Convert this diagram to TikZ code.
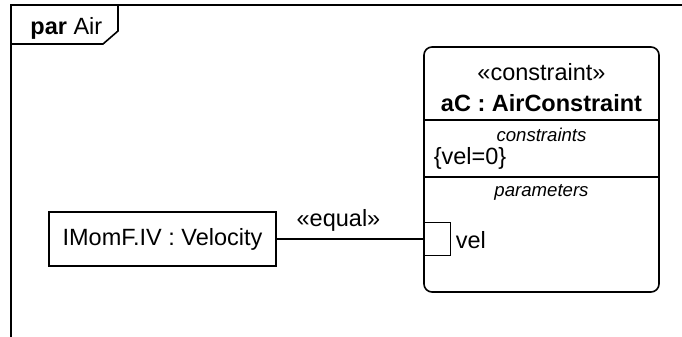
\documentclass[tikz,border=0pt]{standalone}
\usepackage{fontspec}
\setmainfont{Liberation Sans}
\usetikzlibrary{arrows.meta}
\newcommand{\stereo}[1]{«#1»}
\newcommand{\compart}[1]{{\fontsize{9.3}{11}\selectfont\itshape #1}}

\begin{document}
\begin{tikzpicture}[x=0.5pt,y=-0.5pt,line width=0.8pt,
    font=\fontsize{11.75}{14}\selectfont]
    \useasboundingbox (0,0) rectangle (682,337);

    % diagram frame
    \draw (682,5) -- (11,5) -- (11,337);
    \draw (11,44) -- (103,44) -- (118,31) -- (118,5);
    \node [anchor=base west] (0) at (23,34) {\textbf{par} Air};

    % constraint property
    \node (1) [draw,rounded corners=4pt,minimum width=117.5pt,minimum height=122.5pt] at (541.5,169.5) {};
    \draw (424,120) -- (659,120);
    \draw (424,177) -- (659,177);
    \node (1a) at (541.5,72) {\stereo{constraint}};
    \node (1b) at (541.5,103) {\textbf{aC : AirConstraint}};
    \node (1c) at (541.5,135) {\compart{constraints}};
    \node (1d) [anchor=west,inner sep=0pt] at (433,158) {\{vel=0\}};
    \node (1e) at (541.5,192) {\compart{parameters}};

    % parameter port
    \node (3) [draw,inner sep=0pt,minimum width=13pt,minimum height=16.5pt] at (437.5,239) {};
    \node (3a) [anchor=west,inner sep=0pt] at (455,240) {vel};

    % value property
    \node (2) [draw,minimum width=113.5pt,minimum height=27pt] at (162.5,239) {IMomF.IV : Velocity};

    \path
    (2) [black] edge node [pos=0.42,above] {\stereo{equal}} (3);

\end{tikzpicture}
\end{document}
